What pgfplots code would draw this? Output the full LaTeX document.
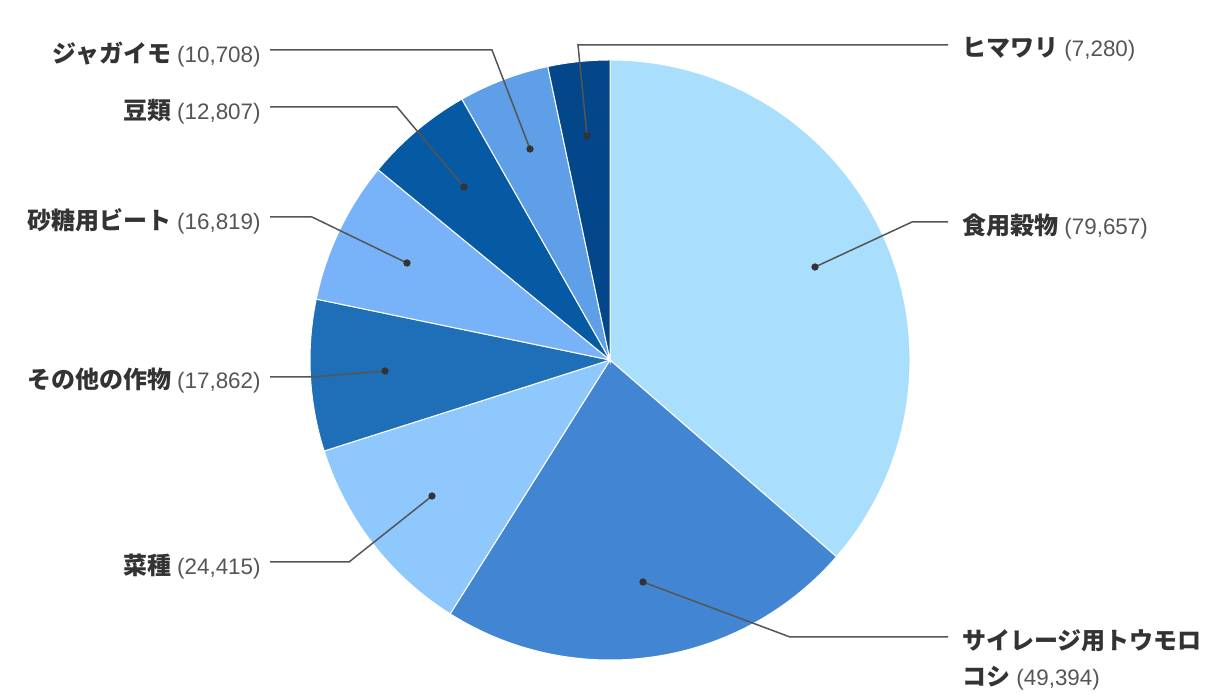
\documentclass[border=0pt]{standalone}
\usepackage{pgfplots}
\pgfplotsset{compat=1.18}
\usepackage{fontspec}
\setmainfont{Noto Sans CJK JP}
\newfontfamily\numfont{Liberation Sans}
\definecolor{c1}{HTML}{A9DFFC}
\definecolor{c2}{HTML}{4286D3}
\definecolor{c3}{HTML}{8FC8FC}
\definecolor{c4}{HTML}{1F6EB8}
\definecolor{c5}{HTML}{78B2F8}
\definecolor{c6}{HTML}{0659A3}
\definecolor{c7}{HTML}{5E9FE8}
\definecolor{c8}{HTML}{03468A}
\definecolor{namecol}{HTML}{333333}
\definecolor{numcol}{HTML}{555555}
\definecolor{leader}{HTML}{555555}
\def\total{218942}
\def\cum{0}
\newcommand\pieslice[2]{%
  \edef\sa{\fpeval{90-360*\cum/\total}}%
  \xdef\cum{\fpeval{\cum+#1}}%
  \edef\ea{\fpeval{90-360*\cum/\total}}%
  \edef\tmp{\noexpand\fill[#2, draw=white, line width=0.5pt] (axis cs:610,340) -- ++(\sa:150pt) arc[start angle=\sa, end angle=\ea, radius=150pt] -- cycle;}%
  \tmp}
\newcommand\nm[1]{{\fontsize{12pt}{18pt}\selectfont\color{namecol}\bfseries #1}}
\newcommand\nb[1]{{\numfont\fontsize{11.2pt}{18pt}\selectfont\color{numcol}(#1)}}
\newcommand\lab[2]{\nm{#1}\hspace{3pt}\nb{#2}}
\begin{document}
\begin{tikzpicture}
\begin{axis}[
  x=0.5pt, y=0.5pt,
  xmin=0, xmax=1220, ymin=0, ymax=700,
  hide axis, clip=false,
]
\path (axis cs:0,0) rectangle (axis cs:1220,700);
\pieslice{79657}{c1}
\pieslice{49394}{c2}
\pieslice{24415}{c3}
\pieslice{17862}{c4}
\pieslice{16819}{c5}
\pieslice{12807}{c6}
\pieslice{10708}{c7}
\pieslice{7280}{c8}
% leader lines
\addplot[leader, line width=0.75pt] coordinates {(815,433) (912,478) (948,478)};
\addplot[leader, line width=0.75pt] coordinates {(643,118) (790,63) (948,63)};
\addplot[leader, line width=0.75pt] coordinates {(432,204) (349,138) (270,138)};
\addplot[leader, line width=0.75pt] coordinates {(385,329) (312,323) (270,323)};
\addplot[leader, line width=0.75pt] coordinates {(407,437) (312,483) (270,483)};
\addplot[leader, line width=0.75pt] coordinates {(464,513) (397,593) (270,593)};
\addplot[leader, line width=0.75pt] coordinates {(530,551) (492,650) (270,650)};
\addplot[leader, line width=0.75pt] coordinates {(587,564) (578,655) (948,655)};
\addplot[only marks, mark=*, mark size=1.6pt, color=namecol] coordinates {
 (815,433) (643,118) (432,204) (385,329) (407,437) (464,513) (530,551) (587,564)};
% labels
\begin{scope}[every node/.style={inner sep=0pt}]
\node[anchor=base west] at (axis cs:962,465) {\lab{食用穀物}{79,657}};
\node[anchor=base west] at (axis cs:962,50) {\nm{サイレージ用トウモロ}};
\node[anchor=base west] at (axis cs:962,14) {\lab{コシ}{49,394}};
\node[anchor=base east] at (axis cs:261,125) {\lab{菜種}{24,415}};
\node[anchor=base east] at (axis cs:261,311) {\lab{その他の作物}{17,862}};
\node[anchor=base east] at (axis cs:261,470) {\lab{砂糖用ビート}{16,819}};
\node[anchor=base east] at (axis cs:261,580) {\lab{豆類}{12,807}};
\node[anchor=base east] at (axis cs:261,637) {\lab{ジャガイモ}{10,708}};
\node[anchor=base west] at (axis cs:962,643) {\lab{ヒマワリ}{7,280}};
\end{scope}
\end{axis}
\end{tikzpicture}
\end{document}
